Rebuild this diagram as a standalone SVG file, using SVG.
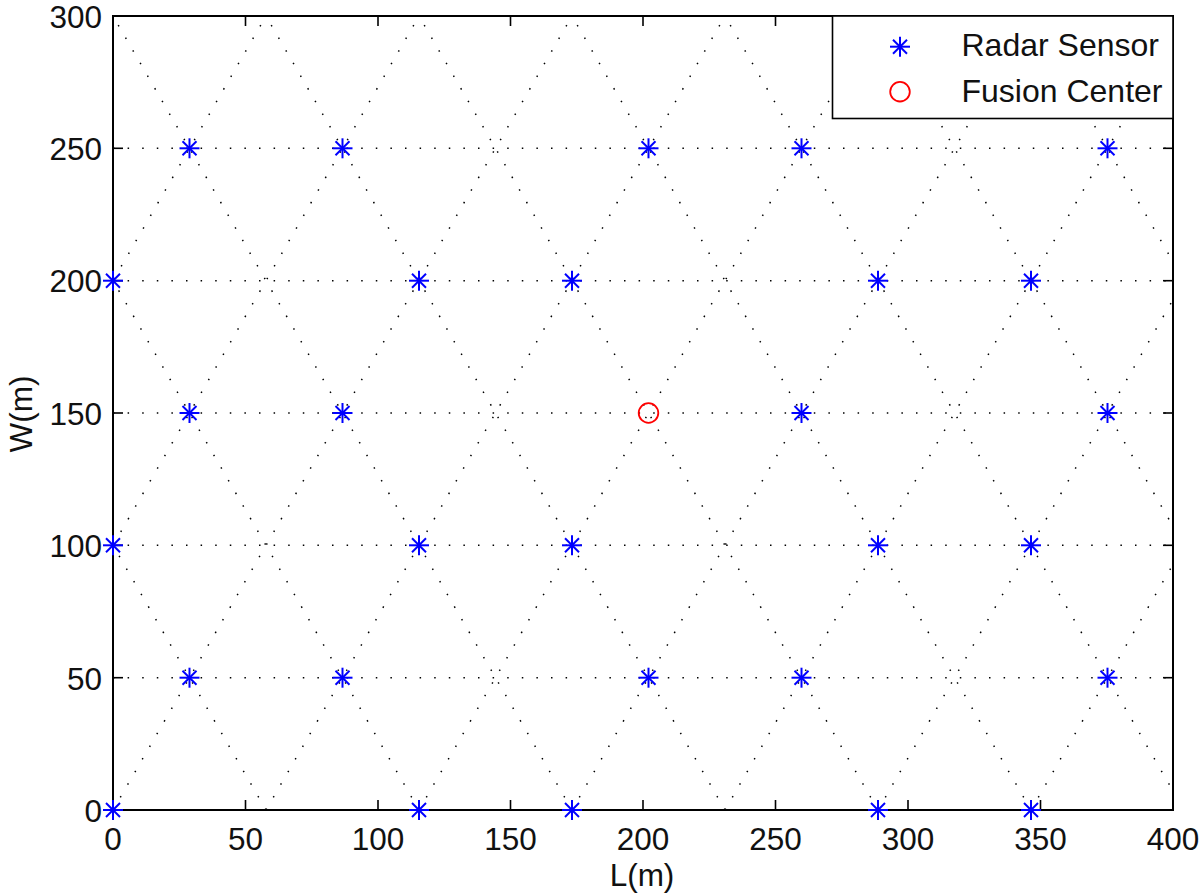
<svg xmlns="http://www.w3.org/2000/svg" xmlns:xlink="http://www.w3.org/1999/xlink" width="1200" height="896" viewBox="0 0 1200 896">
<style>
.grid{stroke:#000;stroke-width:1.5;stroke-dasharray:1.5 13.1;fill:none}
.ax{stroke:#000;stroke-width:2;fill:none}
.tk{stroke:#000;stroke-width:1.6}
.lbl{font-family:"Liberation Sans",Arial,Helvetica,sans-serif;font-size:31.5px;fill:#111}
.leg{font-family:"Liberation Sans",Arial,Helvetica,sans-serif;font-size:32px;fill:#111}
.ast{stroke:#0000ff;stroke-width:2;fill:none}
.fc{stroke:#ff0000;stroke-width:1.8;fill:none}
</style>
<defs>
<clipPath id="plotclip"><rect x="113" y="16" width="1060" height="794"/></clipPath>
<g id="star" class="ast">
<line x1="-10" y1="0" x2="10" y2="0"/>
<line x1="0" y1="-10" x2="0" y2="10"/>
<line x1="-7" y1="-7" x2="7" y2="7"/>
<line x1="-7" y1="7" x2="7" y2="-7"/>
</g>
</defs>
<rect width="1200" height="896" fill="#fff"/>
<g id="connectors" clip-path="url(#plotclip)" class="grid">
<line x1="113" y1="677.7" x2="1173" y2="677.7"/>
<line x1="113" y1="545.3" x2="1173" y2="545.3"/>
<line x1="113" y1="413" x2="1173" y2="413"/>
<line x1="113" y1="280.7" x2="1173" y2="280.7"/>
<line x1="113" y1="148.3" x2="1173" y2="148.3"/>
<line x1="-346" y1="810" x2="113" y2="16"/>
<line x1="-193" y1="810" x2="266" y2="16"/>
<line x1="-40" y1="810" x2="419" y2="16"/>
<line x1="113" y1="810" x2="572" y2="16"/>
<line x1="266" y1="810" x2="725" y2="16"/>
<line x1="419" y1="810" x2="878" y2="16"/>
<line x1="572" y1="810" x2="1031" y2="16"/>
<line x1="725" y1="810" x2="1184" y2="16"/>
<line x1="878" y1="810" x2="1337" y2="16"/>
<line x1="1031" y1="810" x2="1490" y2="16"/>
<line x1="266" y1="810" x2="-193" y2="16"/>
<line x1="419" y1="810" x2="-40" y2="16"/>
<line x1="572" y1="810" x2="113" y2="16"/>
<line x1="725" y1="810" x2="266" y2="16"/>
<line x1="878" y1="810" x2="419" y2="16"/>
<line x1="1031" y1="810" x2="572" y2="16"/>
<line x1="1184" y1="810" x2="725" y2="16"/>
<line x1="1337" y1="810" x2="878" y2="16"/>
<line x1="1490" y1="810" x2="1031" y2="16"/>
</g>
<g id="axes">
<rect class="ax" x="113" y="16" width="1060" height="794"/>
<g class="tk">
<line x1="245.5" y1="810" x2="245.5" y2="800"/><line x1="378" y1="810" x2="378" y2="800"/>
<line x1="510.5" y1="810" x2="510.5" y2="800"/><line x1="643" y1="810" x2="643" y2="800"/>
<line x1="775.5" y1="810" x2="775.5" y2="800"/><line x1="908" y1="810" x2="908" y2="800"/>
<line x1="1040.5" y1="810" x2="1040.5" y2="800"/>
<line x1="245.5" y1="16" x2="245.5" y2="26"/><line x1="378" y1="16" x2="378" y2="26"/>
<line x1="510.5" y1="16" x2="510.5" y2="26"/><line x1="643" y1="16" x2="643" y2="26"/>
<line x1="775.5" y1="16" x2="775.5" y2="26"/>
<line x1="113" y1="677.7" x2="123" y2="677.7"/><line x1="113" y1="545.3" x2="123" y2="545.3"/>
<line x1="113" y1="413" x2="123" y2="413"/><line x1="113" y1="280.7" x2="123" y2="280.7"/>
<line x1="113" y1="148.3" x2="123" y2="148.3"/>
<line x1="1173" y1="677.7" x2="1163" y2="677.7"/><line x1="1173" y1="545.3" x2="1163" y2="545.3"/>
<line x1="1173" y1="413" x2="1163" y2="413"/><line x1="1173" y1="280.7" x2="1163" y2="280.7"/>
<line x1="1173" y1="148.3" x2="1163" y2="148.3"/>
</g>
<g class="lbl" text-anchor="middle">
<text x="113" y="850">0</text><text x="245.5" y="850">50</text><text x="378" y="850">100</text>
<text x="510.5" y="850">150</text><text x="643" y="850">200</text><text x="775.5" y="850">250</text>
<text x="908" y="850">300</text><text x="1040.5" y="850">350</text><text x="1173" y="850">400</text>
</g>
<g class="lbl" text-anchor="end">
<text x="102" y="822">0</text><text x="102" y="689.5">50</text><text x="102" y="557">100</text>
<text x="102" y="424.5">150</text><text x="102" y="292">200</text><text x="102" y="159.5">250</text>
<text x="102" y="27.5">300</text>
</g>
<text class="lbl" x="642" y="886" text-anchor="middle">L(m)</text>
<text class="lbl" transform="translate(32,414) rotate(-90)" text-anchor="middle">W(m)</text>
</g>
<g id="sensors">
<g id="s-row250"><use xlink:href="#star" x="189.5" y="148.3"/><use xlink:href="#star" x="342.5" y="148.3"/><use xlink:href="#star" x="648.5" y="148.3"/><use xlink:href="#star" x="801.5" y="148.3"/><use xlink:href="#star" x="1107.5" y="148.3"/></g>
<g id="s-row200"><use xlink:href="#star" x="113" y="280.7"/><use xlink:href="#star" x="419" y="280.7"/><use xlink:href="#star" x="572" y="280.7"/><use xlink:href="#star" x="878" y="280.7"/><use xlink:href="#star" x="1031" y="280.7"/></g>
<g id="s-row150"><use xlink:href="#star" x="189.5" y="413"/><use xlink:href="#star" x="342.5" y="413"/><use xlink:href="#star" x="801.5" y="413"/><use xlink:href="#star" x="1107.5" y="413"/></g>
<g id="s-row100"><use xlink:href="#star" x="113" y="545.3"/><use xlink:href="#star" x="419" y="545.3"/><use xlink:href="#star" x="572" y="545.3"/><use xlink:href="#star" x="878" y="545.3"/><use xlink:href="#star" x="1031" y="545.3"/></g>
<g id="s-row50"><use xlink:href="#star" x="189.5" y="677.7"/><use xlink:href="#star" x="342.5" y="677.7"/><use xlink:href="#star" x="648.5" y="677.7"/><use xlink:href="#star" x="801.5" y="677.7"/><use xlink:href="#star" x="1107.5" y="677.7"/></g>
<g id="s-row0"><use xlink:href="#star" x="113" y="810"/><use xlink:href="#star" x="419" y="810"/><use xlink:href="#star" x="572" y="810"/><use xlink:href="#star" x="878" y="810"/><use xlink:href="#star" x="1031" y="810"/></g>
</g>
<g id="fusion-center"><circle class="fc" cx="648.5" cy="413" r="9.8"/></g>
<g id="legend">
<rect x="832.5" y="16" width="340.5" height="102.5" fill="#fff" stroke="#000" stroke-width="1.6"/>
<use xlink:href="#star" x="900" y="46.7"/>
<circle class="fc" cx="900" cy="91.7" r="9.8"/>
<text class="leg" x="961.5" y="56">Radar Sensor</text>
<text class="leg" x="961.5" y="101.7">Fusion Center</text>
</g>
</svg>
